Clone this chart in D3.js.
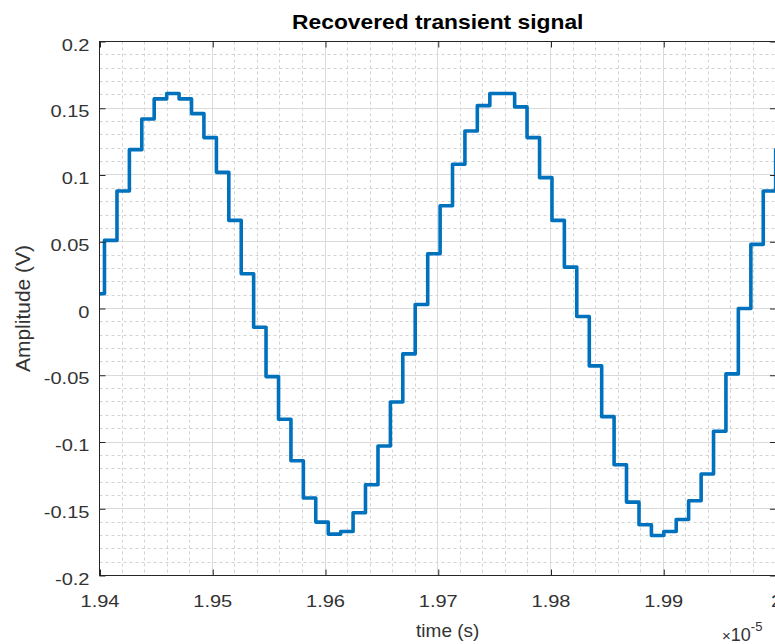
<!DOCTYPE html>
<html>
<head>
<meta charset="utf-8">
<script src="https://cdn.jsdelivr.net/npm/d3@7"></script>
<style>
  html, body { margin: 0; padding: 0; background: #ffffff; }
  svg { display: block; }
</style>
</head>
<body>
<svg id="chart" width="775" height="644"></svg>
<script>
// ---- data ---------------------------------------------------------------
const chartTitle = "Recovered transient signal";
const xLabel = "time (s)";
const yLabel = "Amplitude (V)";
const xExponent = "-5";

// sample instants in units of 1e-5 s; each value is held until the next instant
const sampleTimes = [
  1.94000, 1.94044, 1.94155, 1.94265, 1.94375, 1.94485, 1.94596, 1.94706,
  1.94816, 1.94926, 1.95037, 1.95147, 1.95257, 1.95367, 1.95477, 1.95588,
  1.95698, 1.95808, 1.95918, 1.96029, 1.96139, 1.96249, 1.96359, 1.96470,
  1.96580, 1.96690, 1.96800, 1.96911, 1.97021, 1.97131, 1.97241, 1.97351,
  1.97462, 1.97572, 1.97682, 1.97792, 1.97903, 1.98013, 1.98123, 1.98233,
  1.98344, 1.98454, 1.98564, 1.98674, 1.98785, 1.98895, 1.99005, 1.99115,
  1.99225, 1.99336, 1.99446, 1.99556, 1.99666, 1.99777, 1.99887, 1.99997,
  2.00107
];
// recovered amplitude (V) at each instant
const sampleValues = [
  0.011, 0.051, 0.088, 0.119, 0.142, 0.157, 0.161, 0.157,
  0.146, 0.128, 0.102, 0.066, 0.026, -0.014, -0.051, -0.083,
  -0.114, -0.142, -0.160, -0.169, -0.167, -0.153, -0.132, -0.103,
  -0.070, -0.034, 0.003, 0.041, 0.077, 0.108, 0.133, 0.152,
  0.161, 0.161, 0.151, 0.128, 0.098, 0.066, 0.031, -0.006,
  -0.043, -0.081, -0.117, -0.145, -0.162, -0.170, -0.167, -0.158,
  -0.144, -0.124, -0.092, -0.049, 0.000, 0.048, 0.088, 0.119,
  0.145
];

const xDomain = [1.94, 2.0];
const yDomain = [-0.2, 0.2];
const xTickValues = [1.94, 1.95, 1.96, 1.97, 1.98, 1.99, 2.0];
const xTickLabels = ["1.94", "1.95", "1.96", "1.97", "1.98", "1.99", "2"];
const yTickValues = [-0.2, -0.15, -0.1, -0.05, 0, 0.05, 0.1, 0.15, 0.2];
const yTickLabels = ["-0.2", "-0.15", "-0.1", "-0.05", "0", "0.05", "0.1", "0.15", "0.2"];

// ---- layout -------------------------------------------------------------
const plot = { left: 99.5, right: 776, top: 41.5, bottom: 575.5 };
const axisColor = "#262626";
const labelColor = "#333333";
const lineColor = "#0072BD";
const fontFamily = "'Liberation Sans', Arial, Helvetica, sans-serif";
const textStretch = 1.18;   // tick numerals are set slightly wide

const svg = d3.select("#chart");

const x = d3.scaleLinear().domain(xDomain).range([plot.left, plot.right]);
const y = d3.scaleLinear().domain(yDomain).range([plot.bottom, plot.top]);
const crisp = v => Math.round(v - 0.5) + 0.5;

// ---- grid ---------------------------------------------------------------
const grid = svg.append("g").attr("class", "grid");

// minor grid (dotted)
grid.append("g").selectAll("line")
  .data(x.ticks(30).filter(t => !xTickValues.some(m => Math.abs(m - t) < 1e-9)))
  .join("line")
  .attr("x1", d => crisp(x(d))).attr("x2", d => crisp(x(d)))
  .attr("y1", plot.top).attr("y2", plot.bottom)
  .attr("stroke", "#d2d2d2").attr("stroke-width", 1)
  .attr("stroke-dasharray", "3,3");

grid.append("g").selectAll("line")
  .data(y.ticks(40).filter(t => !yTickValues.some(m => Math.abs(m - t) < 1e-9)))
  .join("line")
  .attr("y1", d => crisp(y(d))).attr("y2", d => crisp(y(d)))
  .attr("x1", plot.left).attr("x2", plot.right)
  .attr("stroke", "#d2d2d2").attr("stroke-width", 1)
  .attr("stroke-dasharray", "3,3");

// major grid (solid)
grid.append("g").selectAll("line")
  .data(xTickValues.slice(1, -1))
  .join("line")
  .attr("x1", d => crisp(x(d))).attr("x2", d => crisp(x(d)))
  .attr("y1", plot.top).attr("y2", plot.bottom)
  .attr("stroke", "#dadada").attr("stroke-width", 1);

grid.append("g").selectAll("line")
  .data(yTickValues.slice(1, -1))
  .join("line")
  .attr("y1", d => crisp(y(d))).attr("y2", d => crisp(y(d)))
  .attr("x1", plot.left).attr("x2", plot.right)
  .attr("stroke", "#dadada").attr("stroke-width", 1);

// ---- signal -------------------------------------------------------------
svg.append("clipPath").attr("id", "plot-clip")
  .append("rect")
  .attr("x", plot.left - 2).attr("y", plot.top)
  .attr("width", plot.right - plot.left + 2).attr("height", plot.bottom - plot.top);

const samples = sampleTimes.map((t, i) => ({ t, v: sampleValues[i] }));
const stepLine = d3.line()
  .x(d => x(d.t))
  .y(d => y(d.v))
  .curve(d3.curveStepAfter);

svg.append("path")
  .datum(samples)
  .attr("clip-path", "url(#plot-clip)")
  .attr("fill", "none")
  .attr("stroke", lineColor)
  .attr("stroke-width", 3.6)
  .attr("stroke-linejoin", "round")
  .attr("d", stepLine);

// ---- axes ---------------------------------------------------------------
const tickLen = 6;
function styleAxis(g) {
  g.select(".domain").remove();
  g.selectAll(".tick line").attr("stroke", axisColor);
  g.selectAll(".tick text")
    .attr("fill", labelColor)
    .attr("font-family", fontFamily)
    .attr("font-size", 17);
}

// bottom axis (ticks point inward)
const xAxis = d3.axisBottom(x)
  .tickValues(xTickValues)
  .tickFormat((d, i) => xTickLabels[i])
  .tickSizeInner(-tickLen).tickSizeOuter(0).tickPadding(0);
const gx = svg.append("g")
  .attr("transform", `translate(0,${plot.bottom})`)
  .call(xAxis).call(styleAxis);
gx.selectAll(".tick line").attr("transform", "translate(0.5,0)");
gx.selectAll(".tick text")
  .attr("y", null).attr("dy", null)
  .attr("transform", `translate(0,31) scale(${textStretch},1)`);

// top axis ticks only
const gxTop = svg.append("g")
  .attr("transform", `translate(0,${plot.top})`)
  .call(d3.axisTop(x).tickValues(xTickValues).tickSizeInner(-tickLen).tickSizeOuter(0).tickFormat(""));
gxTop.select(".domain").remove();
gxTop.selectAll(".tick line").attr("stroke", axisColor).attr("transform", "translate(0.5,0)");

// left axis
const yAxis = d3.axisLeft(y)
  .tickValues(yTickValues)
  .tickFormat((d, i) => yTickLabels[i])
  .tickSizeInner(-tickLen).tickSizeOuter(0).tickPadding(0);
const gy = svg.append("g")
  .attr("transform", `translate(${plot.left},0)`)
  .call(yAxis).call(styleAxis);
gy.selectAll(".tick text")
  .attr("x", null).attr("dy", null)
  .attr("transform", `translate(-10,8.5) scale(${textStretch},1)`);

// right axis ticks only
const gyRight = svg.append("g")
  .attr("transform", `translate(${plot.right},0)`)
  .call(d3.axisRight(y).tickValues(yTickValues).tickSizeInner(-tickLen).tickSizeOuter(0).tickFormat(""));
gyRight.select(".domain").remove();
gyRight.selectAll(".tick line").attr("stroke", axisColor);

// axes box
svg.append("rect")
  .attr("x", plot.left).attr("y", plot.top)
  .attr("width", plot.right - plot.left).attr("height", plot.bottom - plot.top)
  .attr("fill", "none").attr("stroke", axisColor).attr("stroke-width", 1);

// ---- text ---------------------------------------------------------------
const midX = (plot.left + plot.right) / 2;

svg.append("text")
  .attr("transform", `translate(${midX},29) scale(1.14,1)`)
  .attr("text-anchor", "middle")
  .attr("font-family", fontFamily)
  .attr("font-weight", "bold")
  .attr("font-size", 20)
  .attr("fill", "#000000")
  .text(chartTitle);

svg.append("text")
  .attr("transform", `translate(${midX + 10},637)`)
  .attr("text-anchor", "middle")
  .attr("font-family", fontFamily)
  .attr("font-size", 19)
  .attr("fill", labelColor)
  .text(xLabel);

svg.append("text")
  .attr("transform", `translate(30,${(plot.top + plot.bottom) / 2}) rotate(-90)`)
  .attr("text-anchor", "middle")
  .attr("font-family", fontFamily)
  .attr("font-size", 21)
  .attr("fill", labelColor)
  .text(yLabel);

// scale factor of the time axis
const expo = svg.append("text")
  .attr("x", 722).attr("y", 641)
  .attr("font-family", fontFamily)
  .attr("font-size", 18)
  .attr("fill", labelColor);
expo.append("tspan").attr("font-size", 15).text("\u00d7");
expo.append("tspan").text("10");
expo.append("tspan").attr("font-size", 13).attr("dy", -10).text(xExponent);
</script>
</body>
</html>
